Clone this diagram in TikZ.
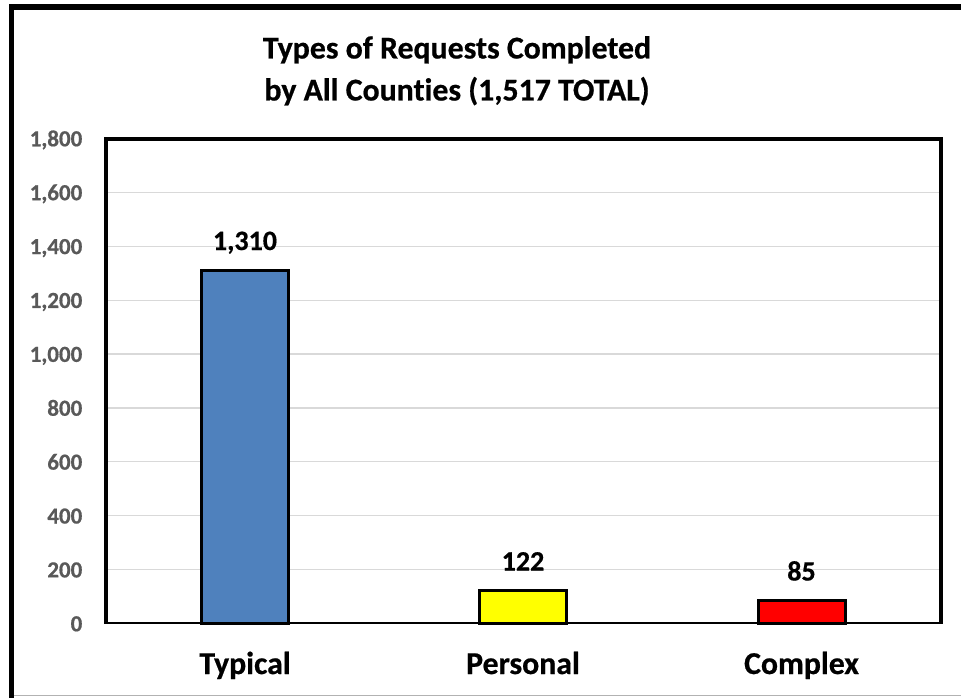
\documentclass[tikz,border=0pt]{standalone}
\usepackage{fontspec}
\setmainfont{Carlito}[Ligatures=NoCommon, BoldFeatures={FakeBold=0.6}]
\definecolor{axisgray}{HTML}{595959}
\definecolor{gridgray}{HTML}{D9D9D9}
\definecolor{barblue}{HTML}{4F81BD}
\definecolor{baryellow}{HTML}{FFFF00}
\definecolor{barred}{HTML}{FF0000}
\begin{document}
\begin{tikzpicture}[x=1pt,y=-1pt,
  ylab/.style={font=\bfseries\fontsize{23}{23}\selectfont, text=axisgray, anchor=base east, inner sep=0pt},
  vlab/.style={font=\bfseries\fontsize{28}{28}\selectfont, anchor=base, inner sep=0pt},
  catlab/.style={font=\bfseries\fontsize{31.8}{31.8}\selectfont, anchor=base, inner sep=0pt},
  titlelab/.style={font=\bfseries\fontsize{31.8}{31.8}\selectfont, anchor=base, inner sep=0pt},
  bar/.style={draw=black, line width=3pt},
  grid line/.style={draw=gridgray, line width=1.2pt}]
\useasboundingbox (0,0) rectangle (961,698);
\fill[white] (0,0) rectangle (961,698);

% value-to-y mapping: 0..1800 spans 623.5..138.5
\def\ys{0.2694444}

% outer chart border
\draw[line width=5.5pt] (11.5,698) -- (11.5,7.2) -- (961,7.2);
\draw[gray!60, line width=1pt] (14,695.5) -- (961,695.5);

% title
\node[titlelab] (t1) at (457,58.5) {Types of Requests Completed};
\node[titlelab] (t2) at (457,100.5) {by All Counties (1,517 TOTAL)};

% horizontal gridlines every 200
\foreach \v in {200,400,...,1600}
  \draw[grid line] (107,{623.5-\v*\ys}) -- (939,{623.5-\v*\ys});

% y-axis labels
\foreach \v/\s [count=\i] in {0/0,200/200,400/400,600/600,800/800,1000/{1,000},1200/{1,200},1400/{1,400},1600/{1,600},1800/{1,800}}
  \node[ylab] (y\i) at (82.5,{623.5-\v*\ys+7.8}) {\s};

% bars
\draw[bar, fill=barblue]   (201.5,{623.5-1310*\ys}) rectangle (288.5,623.5);
\draw[bar, fill=baryellow] (479.5,{623.5-122*\ys}) rectangle (566.5,623.5);
\draw[bar, fill=barred]    (758,{623.5-85*\ys}) rectangle (845,623.5);

% plot frame
\draw[line width=4pt] (105.5,623.5) -- (105.5,139.5) -- (940.5,139.5) -- (940.5,623.5);
\draw[line width=2.5pt] (104,623) -- (942,623);

% value labels
\node[vlab] (v1) at (245,250) {1,310};
\node[vlab] (v2) at (523,570.5) {122};
\node[vlab] (v3) at (801.5,580.5) {85};

% category labels
\node[catlab] (c1) at (245,674) {Typical};
\node[catlab] (c2) at (523,674) {Personal};
\node[catlab] (c3) at (801.5,674) {Complex};
\end{tikzpicture}
\end{document}
